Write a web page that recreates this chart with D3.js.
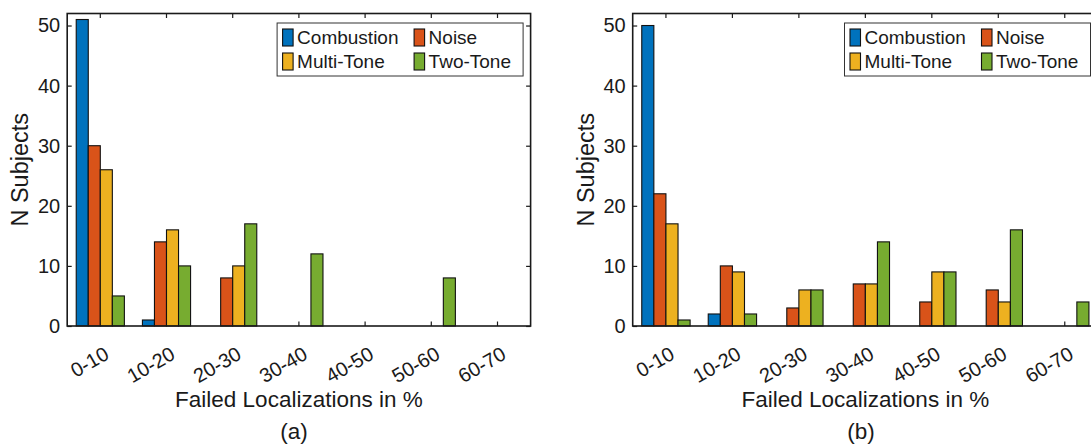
<!DOCTYPE html>
<html>
<head>
<meta charset="utf-8">
<script src="https://cdn.jsdelivr.net/npm/d3@7"></script>
<style>
  html, body { margin: 0; padding: 0; background: #fff; }
  svg { display: block; }
  text { font-family: "Liberation Sans", Arial, sans-serif; fill: #1a1a1a; }
</style>
</head>
<body>
<svg id="chart" width="1091" height="446"></svg>
<script>
// ---------- data ----------
const categories = ["0-10", "10-20", "20-30", "30-40", "40-50", "50-60", "60-70"];
const seriesNames = ["Combustion", "Noise", "Multi-Tone", "Two-Tone"];
const yTickValues = [0, 10, 20, 30, 40, 50];

// panel (a)
const combustionA = [51, 1, 0, 0, 0, 0, 0];
const noiseA      = [30, 14, 8, 0, 0, 0, 0];
const multiToneA  = [26, 16, 10, 0, 0, 0, 0];
const twoToneA    = [5, 10, 17, 12, 0, 8, 0];

// panel (b)
const combustionB = [50, 2, 0, 0, 0, 0, 0];
const noiseB      = [22, 10, 3, 7, 4, 6, 0];
const multiToneB  = [17, 9, 6, 7, 9, 4, 0];
const twoToneB    = [1, 2, 6, 14, 9, 16, 4];

const panelLabels = ["(a)", "(b)"];
const xTitle = "Failed Localizations in %";
const yTitle = "N Subjects";

// ---------- styles ----------
const colors = ["#0072BD", "#D95319", "#EDB120", "#77AC30"];
const axisColor = "#1a1a1a";

const svg = d3.select("#chart");

function drawPanel(cfg) {
  const { left, right, top, bottom, series, label, labelX, ylabX } = cfg;
  const g = svg.append("g");

  const x = d3.scaleBand().domain(categories).range([left, right]).paddingInner(0).paddingOuter(0);
  const groupW = x.bandwidth() * 0.7273;
  const xs = d3.scaleBand().domain(seriesNames).range([-groupW / 2, groupW / 2]).padding(0);
  const y = d3.scaleLinear().domain([0, 52]).range([bottom, top]);

  const tickLen = 4.5;

  // y axis (left) with inward ticks
  const yAxis = d3.axisLeft(y).tickValues(yTickValues).tickSizeInner(-tickLen).tickSizeOuter(0).tickPadding(7);
  const ya = g.append("g").attr("transform", `translate(${left},0)`).call(yAxis);
  ya.select(".domain").remove();
  ya.selectAll("line").attr("stroke", axisColor).attr("stroke-width", 1.2);
  ya.selectAll("text").attr("font-size", 20).style("font-family", '"Liberation Sans", Arial, sans-serif').attr("fill", axisColor);

  // y axis (right) inward ticks
  const yAxisR = d3.axisRight(y).tickValues(yTickValues).tickSizeInner(-tickLen).tickSizeOuter(0).tickFormat("");
  const yr = g.append("g").attr("transform", `translate(${right},0)`).call(yAxisR);
  yr.select(".domain").remove();
  yr.selectAll("line").attr("stroke", axisColor).attr("stroke-width", 1.2);

  // x axis (bottom) inward ticks
  const xAxis = d3.axisBottom(x).tickSizeInner(-tickLen).tickSizeOuter(0).tickPadding(0);
  const xa = g.append("g").attr("transform", `translate(0,${bottom})`).call(xAxis);
  xa.select(".domain").remove();
  xa.selectAll("line").attr("stroke", axisColor).attr("stroke-width", 1.2);
  xa.selectAll("text")
    .attr("font-size", 20)
    .style("font-family", '"Liberation Sans", Arial, sans-serif')
    .attr("fill", axisColor)
    .attr("text-anchor", "end")
    .attr("dy", null)
    .attr("y", 0)
    .attr("transform", "translate(10,32) rotate(-30)");

  // x axis (top) inward ticks
  const xAxisT = d3.axisTop(x).tickSizeInner(-tickLen).tickSizeOuter(0).tickFormat("");
  const xt = g.append("g").attr("transform", `translate(0,${top})`).call(xAxisT);
  xt.select(".domain").remove();
  xt.selectAll("line").attr("stroke", axisColor).attr("stroke-width", 1.2);

  // bars
  const groups = g.append("g").selectAll("g")
    .data(series)
    .join("g")
    .attr("fill", (d, i) => colors[i]);
  groups.selectAll("rect")
    .data((d, i) => d.values.map((v, j) => ({ v, cat: categories[j], name: seriesNames[i] })).filter(e => e.v > 0))
    .join("rect")
    .attr("x", d => x(d.cat) + x.bandwidth() / 2 + xs(d.name))
    .attr("width", xs.bandwidth())
    .attr("y", d => y(d.v))
    .attr("height", d => y(0) - y(d.v))
    .attr("stroke", "#111")
    .attr("stroke-width", 1.1);

  // frame
  g.append("rect")
    .attr("x", left).attr("y", top)
    .attr("width", right - left).attr("height", bottom - top)
    .attr("fill", "none").attr("stroke", axisColor).attr("stroke-width", 1.6);

  // axis titles
  g.append("text")
    .attr("x", (left + right) / 2).attr("y", bottom + 81)
    .attr("text-anchor", "middle").attr("font-size", 22.5)
    .text(xTitle);
  g.append("text")
    .attr("transform", `translate(${ylabX},${(top + bottom) / 2}) rotate(-90)`)
    .attr("text-anchor", "middle").attr("font-size", 23.5)
    .text(yTitle);

  // panel label
  g.append("text")
    .attr("x", labelX).attr("y", 439)
    .attr("text-anchor", "middle").attr("font-size", 22.5)
    .text(label);

  // legend
  const legW = 246, legH = 53;
  const lx = right - 7.5 - legW, ly = top + 9.5;
  const leg = g.append("g").attr("transform", `translate(${lx},${ly})`);
  leg.append("rect").attr("width", legW).attr("height", legH)
    .attr("fill", "#fff").attr("stroke", "#333").attr("stroke-width", 1);
  const colX = [5.5, 137];
  const rowY = [6, 30];
  seriesNames.forEach((name, i) => {
    const cx = colX[i % 2], ry = rowY[Math.floor(i / 2)];
    leg.append("rect").attr("x", cx).attr("y", ry).attr("width", 10.5).attr("height", 17)
      .attr("fill", colors[i]).attr("stroke", "#111").attr("stroke-width", 1.1);
    leg.append("text").attr("x", cx + 14.5).attr("y", ry + 15)
      .attr("font-size", 19).text(name);
  });
}

drawPanel({
  left: 67.2, right: 530.6, top: 13.5, bottom: 326,
  series: [
    { name: seriesNames[0], values: combustionA },
    { name: seriesNames[1], values: noiseA },
    { name: seriesNames[2], values: multiToneA },
    { name: seriesNames[3], values: twoToneA }
  ],
  label: panelLabels[0], labelX: 294, ylabX: 28
});

drawPanel({
  left: 632.7, right: 1098, top: 13.5, bottom: 326,
  series: [
    { name: seriesNames[0], values: combustionB },
    { name: seriesNames[1], values: noiseB },
    { name: seriesNames[2], values: multiToneB },
    { name: seriesNames[3], values: twoToneB }
  ],
  label: panelLabels[1], labelX: 861, ylabX: 594
});
</script>
</body>
</html>
